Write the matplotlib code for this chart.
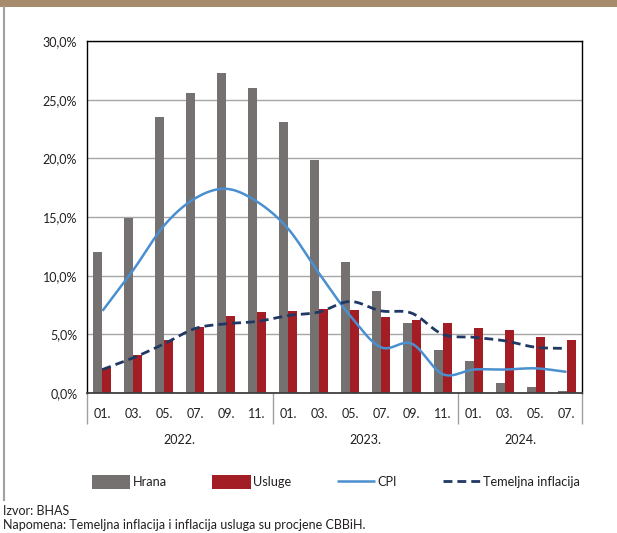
import numpy as np
import matplotlib
matplotlib.use("Agg")
import matplotlib.pyplot as plt
from matplotlib.patches import Rectangle
from matplotlib.lines import Line2D
import matplotlib.transforms as mtransforms

plt.rcParams['font.family'] = ['Lato', 'DejaVu Sans']

months = ["01.", "03.", "05.", "07.", "09.", "11.",
          "01.", "03.", "05.", "07.", "09.", "11.",
          "01.", "03.", "05.", "07."]
years = ["2022.", "2023.", "2024."]
year_counts = [6, 6, 4]

hrana = [12.0, 14.9, 23.5, 25.6, 27.3, 26.0,
         23.1, 19.9, 11.2, 8.7, 6.0, 3.7,
         2.7, 0.85, 0.5, 0.2]
usluge = [2.15, 3.2, 4.5, 5.6, 6.6, 6.9,
          7.0, 7.2, 7.1, 6.5, 6.2, 6.0,
          5.5, 5.4, 4.8, 4.5]
cpi = [7.0, 10.5, 14.3, 16.6, 17.4, 16.3,
       14.0, 10.2, 6.6, 3.9, 4.2, 1.6,
       2.0, 2.0, 2.1, 1.8]
temeljna = [2.0, 3.0, 4.2, 5.5, 5.9, 6.1,
            6.6, 6.9, 7.8, 7.0, 6.8, 5.0,
            4.75, 4.45, 3.9, 3.8]


def smooth(y, n=20):
    """Catmull-Rom style smoothing (like Excel smoothed lines)."""
    y = np.asarray(y, float)
    x = np.arange(len(y), dtype=float)
    P = np.column_stack([x, y])
    out = []
    for i in range(len(P) - 1):
        p0 = P[i - 1] if i > 0 else P[i]
        p1 = P[i]
        p2 = P[i + 1]
        p3 = P[i + 2] if i + 2 < len(P) else P[i + 1]
        c1 = p1 + (p2 - p0) / 6.0
        c2 = p2 - (p3 - p1) / 6.0
        t = np.linspace(0, 1, n, endpoint=(i == len(P) - 2))[:, None]
        seg = ((1 - t) ** 3) * p1 + 3 * ((1 - t) ** 2) * t * c1 + 3 * (1 - t) * t ** 2 * c2 + t ** 3 * p2
        out.append(seg)
    out = np.vstack(out)
    return out[:, 0], out[:, 1]


W, H = 617, 533
fig = plt.figure(figsize=(W / 100, H / 100), dpi=100)

# header band and left border
fig.add_artist(Rectangle((0, 1 - 7 / H), 1, 7 / H, transform=fig.transFigure,
                         facecolor="#A68B6D", edgecolor="none"))
fig.add_artist(Line2D([3.5 / W, 3.5 / W], [1 - 7 / H, 1 - 500 / H], transform=fig.transFigure,
                      color="#A0A0A0", lw=1.5))

ax = fig.add_axes([87 / W, 1 - 393 / H, (582 - 87) / W, (393 - 41) / H])

x = np.arange(len(months))
bw = 0.29
c_gray = "#767171"
c_red = "#A31D24"
c_cpi = "#4A8FD0"
c_tem = "#1F3864"

b1 = ax.bar(x - bw / 2, hrana, width=bw, color=c_gray, zorder=2, label="Hrana")
b2 = ax.bar(x + bw / 2, usluge, width=bw, color=c_red, zorder=2, label="Usluge")
sx, sy = smooth(cpi)
l1, = ax.plot(sx, sy, color=c_cpi, lw=1.8, zorder=3, label="CPI", solid_capstyle="butt")
tx, ty = smooth(temeljna)
l2, = ax.plot(tx, ty, color=c_tem, lw=2.0, ls=(0, (3.2, 1.8)), zorder=3, label="Temeljna inflacija")

ax.set_xlim(-0.5, len(months) - 0.5)
ax.set_ylim(0, 30)
yt = np.arange(0, 31, 5)
ax.set_yticks(yt)
ax.set_yticklabels([f"{v:.1f}%".replace(".", ",") for v in yt], fontsize=9, color="#231F20")
ax.yaxis.grid(True, color="#A6A6A6", lw=1, zorder=0)
ax.set_axisbelow(True)
ax.tick_params(axis="y", length=0, pad=7)

ax.set_xticks(x)
ax.set_xticklabels(months, fontsize=9, color="#231F20")
ax.tick_params(axis="x", which="major", length=0, pad=11)
bounds = np.concatenate([[0], np.cumsum(year_counts)]) - 0.5
ax.set_xticks(bounds, minor=True)
ax.tick_params(axis="x", which="minor", length=22, width=1, color="#A0A0A0")

for s in ["left", "top", "right"]:
    ax.spines[s].set_color("#000000")
    ax.spines[s].set_linewidth(1.0)
ax.spines["bottom"].set_color("#404040")
ax.spines["bottom"].set_linewidth(1.3)

trans = mtransforms.blended_transform_factory(ax.transData, fig.transFigure)
for i, (yl, c) in enumerate(zip(years, year_counts)):
    cx = (bounds[i] + bounds[i + 1]) / 2
    ax.text(cx, 1 - 440 / H, yl, transform=trans, ha="center", va="center",
            fontsize=9, color="#231F20")

leg = fig.legend(handles=[b1, b2, l1, l2], labels=["Hrana", "Usluge", "CPI", "Temeljna inflacija"],
                 loc="center left", bbox_to_anchor=(92 / W, 1 - 482 / H), ncol=4,
                 frameon=False, fontsize=9.2, handlelength=3.0, handleheight=1.35,
                 handletextpad=0.2, columnspacing=3.55, borderaxespad=0, borderpad=0)
for t in leg.get_texts():
    t.set_color("#231F20")

fig.text(3 / W, 1 - 511 / H, "Izvor: BHAS", fontsize=9, va="center", ha="left", color="#231F20")
fig.text(3 / W, 1 - 525 / H, "Napomena: Temeljna inflacija i inflacija usluga su procjene CBBiH.",
         fontsize=9, va="center", ha="left", color="#231F20")

fig.savefig("out.png", dpi=100)
